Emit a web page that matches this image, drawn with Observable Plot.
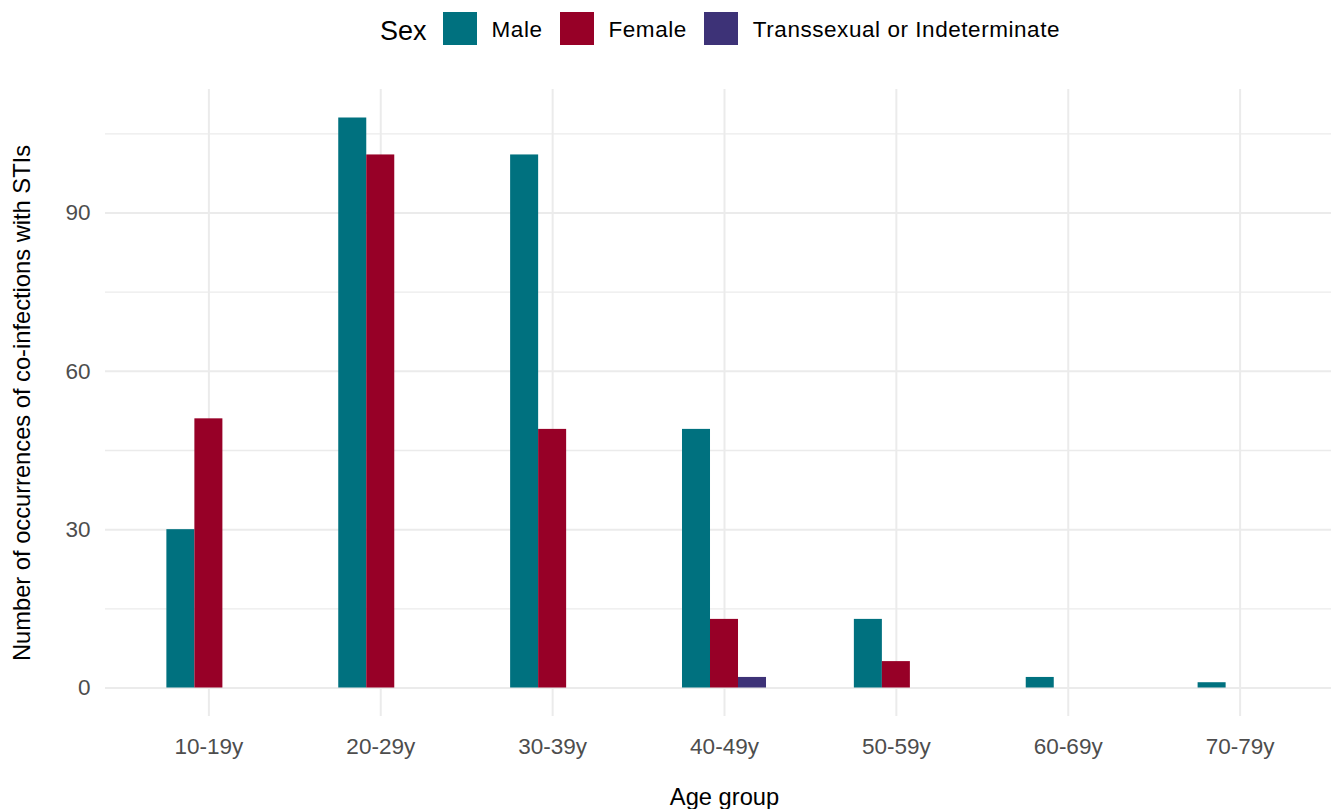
<!DOCTYPE html>
<html>
<head>
<meta charset="utf-8">
<script src="https://cdn.jsdelivr.net/npm/d3@7"></script>
<script src="https://cdn.jsdelivr.net/npm/@observablehq/plot@0.6"></script>
<style>
  html, body { margin: 0; padding: 0; background: #fff; overflow: hidden; width: 1331px; height: 809px; }
  #legend { position: relative; height: 60px; font-family: "Liberation Sans", Arial, sans-serif; color: #000; }
  #legend .row { position: absolute; left: 380px; top: 11px; height: 34px; display: flex; align-items: center; white-space: nowrap; }
  #legend .title { font-size: 27px; margin-right: 16px; position: relative; top: 3px; }
  #legend .sw { width: 34px; height: 33px; margin-right: 15px; }
  #legend .lab { font-size: 22.5px; letter-spacing: 0.55px; margin-right: 17px; position: relative; top: 2px; }
  #chart svg { max-width: none !important; }
  #chart svg g[aria-label="x-axis tick label"], #chart svg g[aria-label="y-axis tick label"] { fill: #4D4D4D; }
  #chart svg g[aria-label="x-axis label"], #chart svg g[aria-label="y-axis label"] { fill: #000; }
</style>
</head>
<body>
<div id="legend"></div>
<div id="chart"></div>
<script>
const ages = ["10-19y", "20-29y", "30-39y", "40-49y", "50-59y", "60-69y", "70-79y"];
const sexes = ["Male", "Female", "Transsexual or Indeterminate"];
const maleCounts = [30, 108, 101, 49, 13, 2, 1];
const femaleCounts = [51, 101, 49, 13, 5, 0, 0];
const transCounts = [0, 0, 0, 2, 0, 0, 0];
const sexColors = ["#00717F", "#970027", "#3D3277"];
const yMajor = [0, 30, 60, 90];
const yMinor = [15, 45, 75, 105];

const seriesBySex = [maleCounts, femaleCounts, transCounts];
const data = [];
ages.forEach((a, i) => {
  sexes.forEach((s, k) => data.push({age: a, sex: s, n: seriesBySex[k][i]}));
});

// Legend (HTML, above the chart)
const legend = document.getElementById("legend");
const row = document.createElement("div");
row.className = "row";
const t = document.createElement("span");
t.className = "title"; t.textContent = "Sex";
row.appendChild(t);
sexes.forEach((s, k) => {
  const sw = document.createElement("span");
  sw.className = "sw"; sw.style.background = sexColors[k];
  const lab = document.createElement("span");
  lab.className = "lab"; lab.textContent = s;
  row.appendChild(sw); row.appendChild(lab);
});
legend.appendChild(row);

const chart = Plot.plot({
  width: 1343,
  height: 749,
  marginTop: 29,
  marginBottom: 93,
  marginLeft: 105,
  marginRight: 0,
  style: {fontFamily: "'Liberation Sans', Arial, sans-serif", fontSize: "22.5px", background: "#fff", overflow: "visible", maxWidth: "none"},
  x: {type: "band", domain: ages, paddingInner: 0.837, paddingOuter: 0.52, round: false},
  y: {domain: [-5.4, 113.4]},
  color: {domain: sexes, range: sexColors},
  marks: [
    Plot.gridX({stroke: "#EBEBEB", strokeOpacity: 1, strokeWidth: 2}),
    Plot.ruleY(yMinor, {stroke: "#EBEBEB", strokeWidth: 1.4}),
    Plot.ruleY(yMajor, {stroke: "#EBEBEB", strokeWidth: 2}),
    ...sexes.map((s, k) => Plot.barY(data.filter(d => d.sex === s), {x: "age", y: "n", fill: "sex", dx: (k - 1) * 28})),
    Plot.axisX({tickSize: 0, tickPadding: 22, label: null, fontSize: 22.5}),
    Plot.axisX({ticks: [], label: "Age group", labelAnchor: "center", labelOffset: 88, labelArrow: "none", fontSize: 23.7}),
    Plot.axisY({ticks: yMajor, tickSize: 0, tickPadding: 15, label: null, fontSize: 22.5}),
    Plot.axisY({ticks: [], label: "Number of occurrences of co-infections with STIs", labelAnchor: "center", labelOffset: 92, labelArrow: "none", fontSize: 23.7})
  ]
});
document.getElementById("chart").appendChild(chart);
</script>
</body>
</html>
